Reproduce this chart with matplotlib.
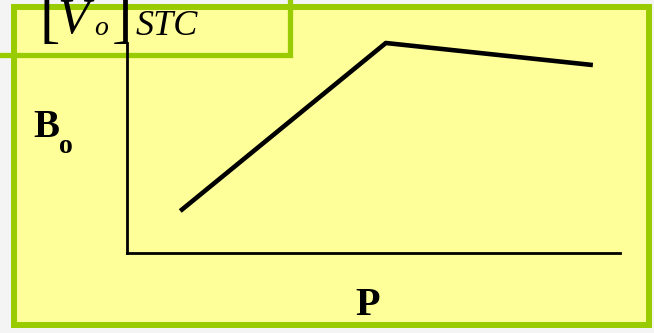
import matplotlib.pyplot as plt
from matplotlib.patches import Rectangle

# data (arbitrary units)
P = [1.08, 5.25, 9.45]
B0 = [2.0, 10.0, 8.95]

W, H = 654, 333
fig = plt.figure(figsize=(W / 100, H / 100), dpi=100)
fig.patch.set_facecolor('#f4f4f4')

# overlay in pixel coords for the frames and labels
bg = fig.add_axes([0, 0, 1, 1], zorder=0)
bg.set_xlim(0, W)
bg.set_ylim(H, 0)
bg.axis('off')

yellow = '#ffff99'
green = '#99cc00'
bg.add_patch(Rectangle((13.5, 7), 649 - 13.5, 324.5 - 7, facecolor=yellow,
                       edgecolor=green, lw=4.3))
bg.add_patch(Rectangle((-20, -20), 289.5 + 20, 54.5 + 20, facecolor='none',
                       edgecolor=green, lw=3.8))

serif = 'Liberation Serif'
bg.text(33, 137, 'B', fontsize=28, fontweight='bold', family=serif, va='baseline')
bg.text(59, 153, 'o', fontsize=20, fontweight='bold', family=serif, va='baseline')
bg.text(368, 315, 'P', fontsize=29, fontweight='bold', family=serif,
        va='baseline', ha='center')

bg.text(39, 36, '[', fontsize=44, family=serif, va='baseline')
bg.text(57, 33, 'V', fontsize=37, family=serif, style='italic', va='baseline')
bg.text(94, 35, 'o', fontsize=20, family=serif, style='italic', va='baseline')
bg.text(112, 36, ']', fontsize=44, family=serif, va='baseline')
bg.text(136, 35, 'STC', fontsize=26, family=serif, style='italic', va='baseline')

# the chart itself
ax = fig.add_axes([127 / W, 1 - 253 / H, (620 - 127) / W, (253 - 43) / H], zorder=1)
ax.patch.set_alpha(0)
ax.plot(P, B0, color='black', lw=3.3, solid_capstyle='butt', clip_on=False)
ax.set_xlim(0, 10)
ax.set_ylim(0, 10)
ax.spines['top'].set_visible(False)
ax.spines['right'].set_visible(False)
ax.spines['left'].set_linewidth(2)
ax.spines['bottom'].set_linewidth(2)
ax.set_xticks([])
ax.set_yticks([])

fig.savefig('out.png', dpi=100, facecolor=fig.get_facecolor())
